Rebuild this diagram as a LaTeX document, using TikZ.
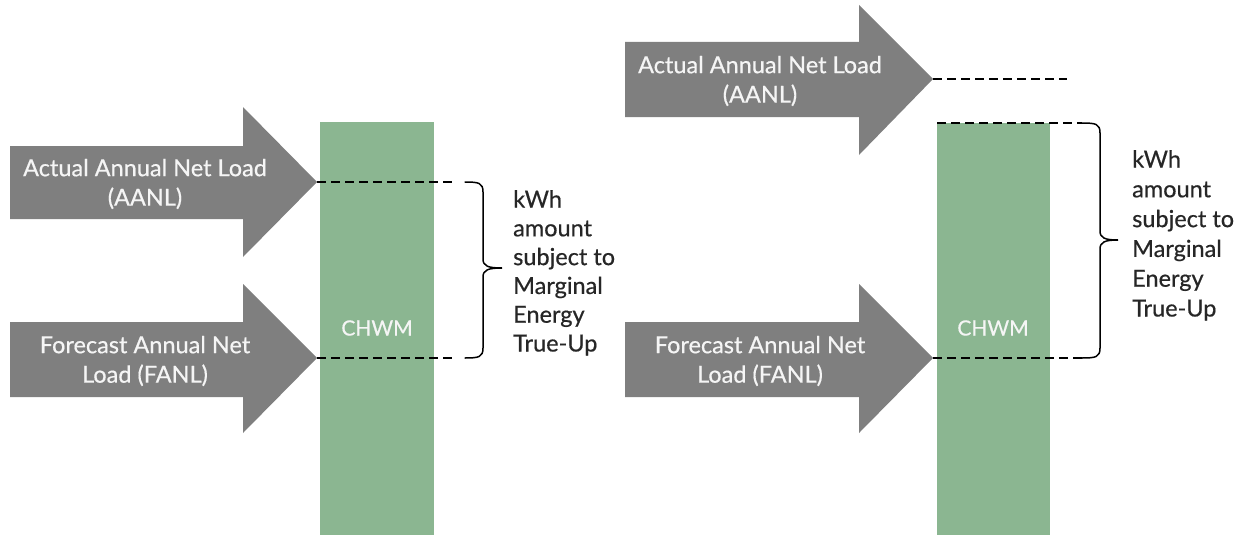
\documentclass[tikz,border=0pt]{standalone}
\usepackage{fontspec}
\setmainfont{Lato}
\newfontfamily\labelsans{Lato}[FakeBold=0.5]
\definecolor{arrowgray}{RGB}{127,127,127}
\definecolor{capgreen}{RGB}{139,182,145}
\definecolor{inktext}{RGB}{38,38,38}
\definecolor{paletext}{RGB}{245,245,245}
\tikzset{
  x=1pt, y=-1pt,
  fatarrow/.style={fill=arrowgray, draw=none},
  arrowtext/.style={text=paletext, align=center, font=\labelsans\fontsize{23.5}{29.5}\selectfont, inner sep=0pt},
  capbar/.style={fill=capgreen, draw=none},
  captext/.style={text=paletext, font=\labelsans\fontsize{21}{24}\selectfont, inner sep=0pt},
  levelline/.style={draw=black, line width=1.6pt, dash pattern=on 9pt off 5pt},
  bracepath/.style={draw=black, line width=1.5pt, line cap=round},
  notetext/.style={text=inktext, align=left, anchor=north west, inner sep=0pt},
}
\begin{document}
\begin{tikzpicture}
\useasboundingbox (0,0) rectangle (1247,535);

% ---------- left panel ----------
\path[capbar] (320,122) rectangle (434,535);
\node[captext] (chwmL) at (377,328) {CHWM};

\path[fatarrow] (10,146) -- (243,146) -- (243,107) -- (317,182) -- (243,257) -- (243,219) -- (10,219) -- cycle;
\coordinate (aanlTipL) at (317,182);
\node[arrowtext] (aanlL) at (145,184) {Actual Annual Net Load\\(AANL)};

\path[fatarrow] (10,322) -- (243,322) -- (243,284) -- (317,358) -- (243,433) -- (243,397) -- (10,397) -- cycle;
\coordinate (fanlTipL) at (317,358);
\node[arrowtext] (fanlL) at (145,361) {Forecast Annual Net\\Load (FANL)};

\coordinate (aanlEndL) at (453,182);
\coordinate (fanlEndL) at (453,358);
\draw[levelline] (aanlTipL) -- (aanlEndL);
\draw[levelline] (fanlTipL) -- (fanlEndL);

\draw[bracepath] (465,182) .. controls (479,182) and (483,183) .. (483,192) -- (483,259)
  .. controls (483,266) and (488,268) .. (502,268)
  .. controls (488,268) and (483,270) .. (483,277) -- (483,348)
  .. controls (483,357) and (479,358) .. (465,358);
\node[notetext, font=\labelsans\fontsize{23.5}{28.8}\selectfont] (noteL) at (513,190) {kWh\\amount\\subject to\\Marginal\\Energy\\True-Up};

% ---------- right panel ----------
\path[capbar] (937,123) rectangle (1050,535);
\node[captext] (chwmR) at (993,328) {CHWM};

\path[fatarrow] (625,42) -- (859,42) -- (859,5) -- (933,79) -- (859,155) -- (859,117) -- (625,117) -- cycle;
\coordinate (aanlTipR) at (933,79);
\node[arrowtext] (aanlR) at (760,81) {Actual Annual Net Load\\(AANL)};

\path[fatarrow] (625,322) -- (859,322) -- (859,284) -- (933,358) -- (859,433) -- (859,397) -- (625,397) -- cycle;
\coordinate (fanlTipR) at (933,358);
\node[arrowtext] (fanlR) at (760,361) {Forecast Annual Net\\Load (FANL)};

\coordinate (aanlEndR) at (1067,79);
\coordinate (chwmTopL) at (937,123);
\coordinate (chwmTopEnd) at (1082,123);
\coordinate (fanlEndR) at (1082,358);
\draw[levelline] (aanlTipR) -- (aanlEndR);
\draw[levelline] (chwmTopL) -- (chwmTopEnd);
\draw[levelline] (fanlTipR) -- (fanlEndR);

\draw[bracepath] (1082,123) .. controls (1096,123) and (1100,124) .. (1100,133) -- (1100,231)
  .. controls (1100,238) and (1105,240) .. (1118,240)
  .. controls (1105,240) and (1100,242) .. (1100,249) -- (1100,348)
  .. controls (1100,357) and (1096,358) .. (1082,358);
\node[notetext, font=\labelsans\fontsize{23.5}{29.8}\selectfont] (noteR) at (1132,150) {kWh\\amount\\subject to\\Marginal\\Energy\\True-Up};
\end{tikzpicture}
\end{document}
